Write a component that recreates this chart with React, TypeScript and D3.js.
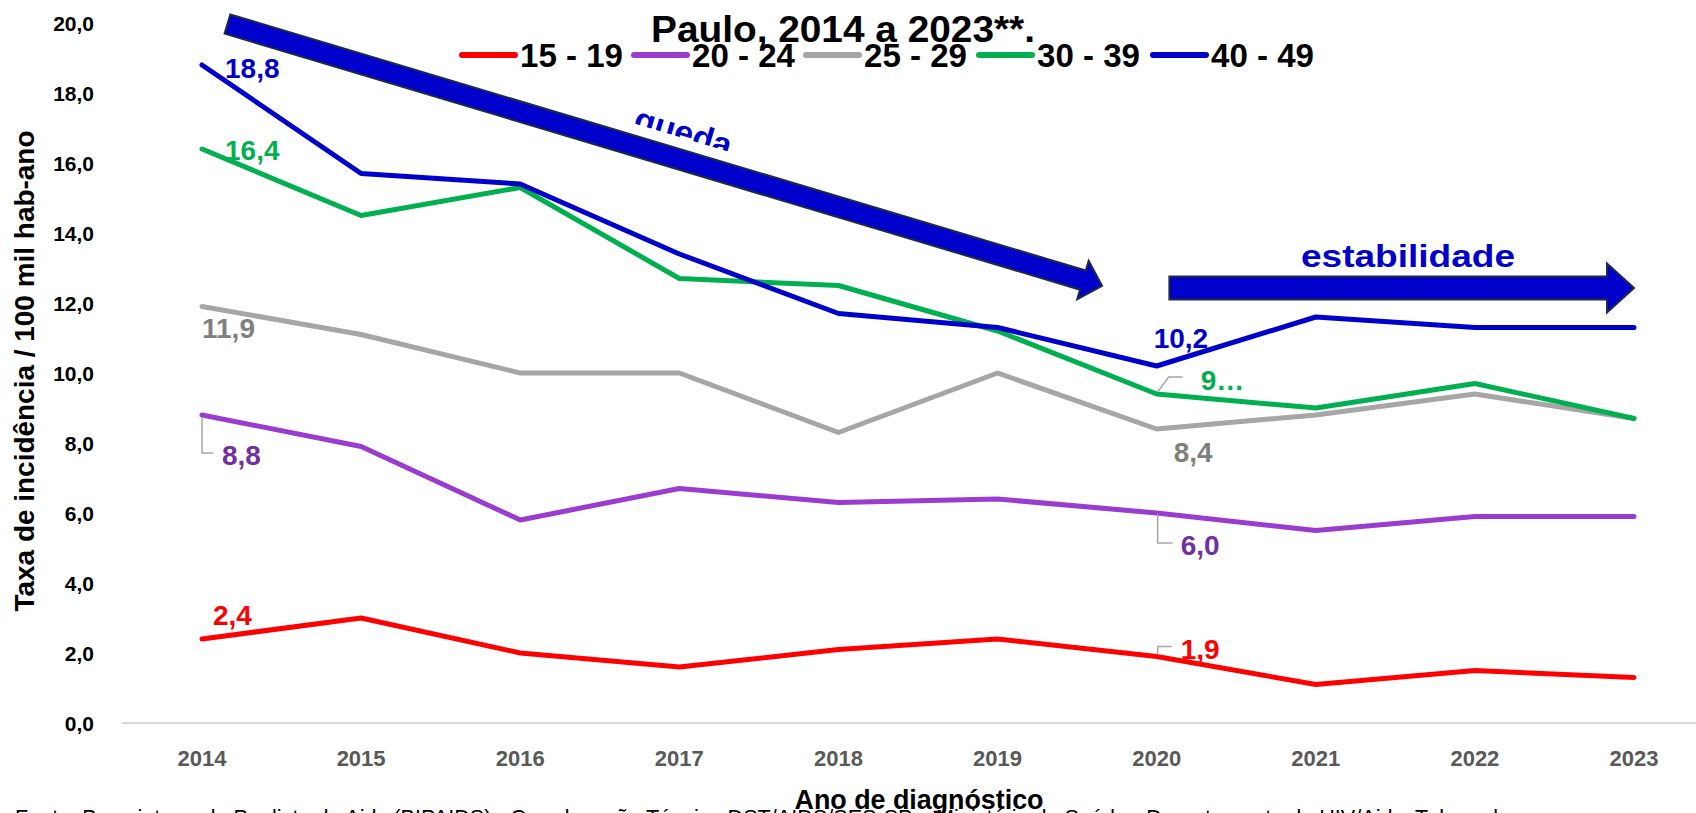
import * as d3 from 'd3';

const years = [2014, 2015, 2016, 2017, 2018, 2019, 2020, 2021, 2022, 2023];
const yTicks = [0, 2, 4, 6, 8, 10, 12, 14, 16, 18, 20];

const s15_19 = [2.4, 3.0, 2.0, 1.6, 2.1, 2.4, 1.9, 1.1, 1.5, 1.3];
const s20_24 = [8.8, 7.9, 5.8, 6.7, 6.3, 6.4, 6.0, 5.5, 5.9, 5.9];
const s25_29 = [11.9, 11.1, 10.0, 10.0, 8.3, 10.0, 8.4, 8.8, 9.4, 8.7];
const s30_39 = [16.4, 14.5, 15.3, 12.7, 12.5, 11.2, 9.4, 9.0, 9.7, 8.7];
const s40_49 = [18.8, 15.7, 15.4, 13.4, 11.7, 11.3, 10.2, 11.6, 11.3, 11.3];

const seriesNames = ['15 - 19', '20 - 24', '25 - 29', '30 - 39', '40 - 49'];
const seriesValues = [s15_19, s20_24, s25_29, s30_39, s40_49];
const lineColors = ['#FF0000', '#9A3CD0', '#A6A6A6', '#00B050', '#0000CC'];
const labelColors = ['#FF0000', '#7030A0', '#7F7F7F', '#00B050', '#0000CC'];

// data labels: series index, point index, text
const labels: { s: number; i: number; text: string; dx: number; dy: number; leader?: [number, number][] }[] = [
  { s: 4, i: 0, text: '18,8', dx: 23, dy: 3 },
  { s: 3, i: 0, text: '16,4', dx: 23, dy: 1 },
  { s: 2, i: 0, text: '11,9', dx: 0, dy: 21 },
  { s: 1, i: 0, text: '8,8', dx: 20, dy: 40, leader: [[0, 2], [0, 38], [11, 38]] },
  { s: 0, i: 0, text: '2,4', dx: 11, dy: -24 },
  { s: 4, i: 6, text: '10,2', dx: -3, dy: -28 },
  { s: 3, i: 6, text: '9…', dx: 44, dy: -14, leader: [[1, -2], [12, -17], [26, -17]] },
  { s: 2, i: 6, text: '8,4', dx: 17, dy: 23 },
  { s: 1, i: 6, text: '6,0', dx: 24, dy: 32, leader: [[1, 1], [1, 30], [16, 30]] },
  { s: 0, i: 6, text: '1,9', dx: 24, dy: -8, leader: [[1, -2], [1, -10], [15, -10]] },
];

const W = 1696;
const H = 813;
const NARROW = "'Liberation Sans Narrow', 'Liberation Sans', Arial, sans-serif";
const SANS = "'Liberation Sans', Arial, sans-serif";

const x = d3.scaleLinear().domain([2014, 2023]).range([202, 1634]);
const y = d3.scaleLinear().domain([0, 20]).range([723, 23]);

function arrowPath(t: [number, number], tip: [number, number], w: number, L: number, hw: number) {
  const dx = tip[0] - t[0], dy = tip[1] - t[1];
  const len = Math.hypot(dx, dy);
  const ux = dx / len, uy = dy / len;
  const nx = -uy, ny = ux;
  const bx = tip[0] - ux * L, by = tip[1] - uy * L;
  const p = d3.path();
  p.moveTo(t[0] + nx * w / 2, t[1] + ny * w / 2);
  p.lineTo(bx + nx * w / 2, by + ny * w / 2);
  p.lineTo(bx + nx * hw / 2, by + ny * hw / 2);
  p.lineTo(tip[0], tip[1]);
  p.lineTo(bx - nx * hw / 2, by - ny * hw / 2);
  p.lineTo(bx - nx * w / 2, by - ny * w / 2);
  p.lineTo(t[0] - nx * w / 2, t[1] - ny * w / 2);
  p.closePath();
  return p.toString();
}

export default function App() {
  const line = d3.line<number>()
    .x((_, i) => x(years[i]))
    .y(d => y(d));

  const quedaTail: [number, number] = [x(2014.16), y(19.97)];
  const quedaTip: [number, number] = [x(2019.657), y(12.49)];
  const estTail: [number, number] = [x(2020.08), y(12.43)];
  const estTip: [number, number] = [x(2023), y(12.43)];
  const angle = Math.atan2(quedaTip[1] - quedaTail[1], quedaTip[0] - quedaTail[0]) * 180 / Math.PI;

  const legendX = [462, 634, 806, 979, 1153];

  return (
    <svg width={W} height={H} style={{ position: 'absolute', left: 0, top: 0, display: 'block', background: '#fff' }}>
      <defs>
        <clipPath id="quedaClip">
          <rect x={-80} y={-40} width={160} height={48} />
        </clipPath>
      </defs>

      {/* title remnant */}
      <text x={651} y={42} fontFamily={NARROW} fontWeight="bold" fontSize={36} fill="#000"
        textLength={384} lengthAdjust="spacingAndGlyphs">Paulo, 2014 a 2023**.</text>

      {/* legend */}
      {seriesNames.map((name, k) => (
        <g key={name}>
          <line x1={legendX[k]} x2={legendX[k] + 53} y1={55} y2={55} stroke={lineColors[k]} strokeWidth={6} strokeLinecap="round" />
          <text x={legendX[k] + 58} y={55} dy="0.36em" fontFamily={NARROW} fontWeight="bold" fontSize={33} fill="#000"
            textLength={103} lengthAdjust="spacingAndGlyphs">{name}</text>
        </g>
      ))}

      {/* baseline */}
      <line x1={122} x2={W} y1={y(0)} y2={y(0)} stroke="#D9D9D9" strokeWidth={2} />

      {/* y ticks */}
      {yTicks.map(t => (
        <text key={t} x={94} y={y(t)} dy="0.36em" textAnchor="end" fontFamily={SANS} fontWeight="bold" fontSize={21} fill="#000">
          {t.toFixed(1).replace('.', ',')}
        </text>
      ))}

      {/* x ticks */}
      {years.map(yr => (
        <text key={yr} x={x(yr)} y={758} dy="0.36em" textAnchor="middle" fontFamily={SANS} fontWeight="bold" fontSize={22} fill="#595959">
          {yr}
        </text>
      ))}

      {/* axis titles */}
      <text transform="translate(34,371) rotate(-90)" textAnchor="middle" fontFamily={NARROW} fontWeight="bold" fontSize={28} fill="#000"
        textLength={481} lengthAdjust="spacingAndGlyphs">Taxa de incidência / 100 mil hab-ano</text>

      <text x={15} y={825} fontFamily={NARROW} fontSize={22} fill="#000" textLength={1536} lengthAdjust="spacingAndGlyphs">
        Fonte: Base integrada Paulista de Aids (BIPAIDS) - Coordenação Técnica DST/AIDS/SES-SP e Ministério da Saúde - Departamento de HIV/Aids, Tuberculose e
      </text>
      <text x={919} y={809} textAnchor="middle" fontFamily={NARROW} fontWeight="bold" fontSize={28} fill="#000"
        textLength={249} lengthAdjust="spacingAndGlyphs">Ano de diagnóstico</text>

      {/* series lines */}
      {seriesValues.map((vals, k) => (
        <path key={k} d={line(vals) || ''} fill="none" stroke={lineColors[k]} strokeWidth={5}
          strokeLinejoin="round" strokeLinecap="round" />
      ))}

      {/* leader lines and labels */}
      {labels.map((lb, k) => {
        const px = x(years[lb.i]);
        const py = y(seriesValues[lb.s][lb.i]);
        return (
          <g key={k}>
            {lb.leader && (
              <polyline points={lb.leader.map(p => `${px + p[0]},${py + p[1]}`).join(' ')}
                fill="none" stroke="#A6A6A6" strokeWidth={1.5} />
            )}
            <text x={px + lb.dx} y={py + lb.dy} dy="0.36em" fontFamily={SANS} fontWeight="bold" fontSize={28}
              fill={labelColors[lb.s]}>{lb.text}</text>
          </g>
        );
      })}

      {/* trend arrows */}
      <path d={arrowPath(quedaTail, quedaTip, 20, 20, 40)} fill="#0000CC" stroke="#1F2A44" strokeWidth={2} strokeLinejoin="miter" />
      <path d={arrowPath(estTail, estTip, 23, 27, 49)} fill="#0000CC" stroke="#1F2A44" strokeWidth={2} strokeLinejoin="miter" />

      <g transform={`translate(684,130) rotate(${angle})`}>
        <text x={0} y={14} textAnchor="middle" fontFamily={NARROW} fontWeight="bold" fontSize={34} fill="#0000CC"
          clipPath="url(#quedaClip)" textLength={100} lengthAdjust="spacingAndGlyphs">queda</text>
      </g>
      <text x={1408} y={267} textAnchor="middle" fontFamily={NARROW} fontWeight="bold" fontSize={32} fill="#0000CC"
        textLength={214} lengthAdjust="spacingAndGlyphs">estabilidade</text>
    </svg>
  );
}
